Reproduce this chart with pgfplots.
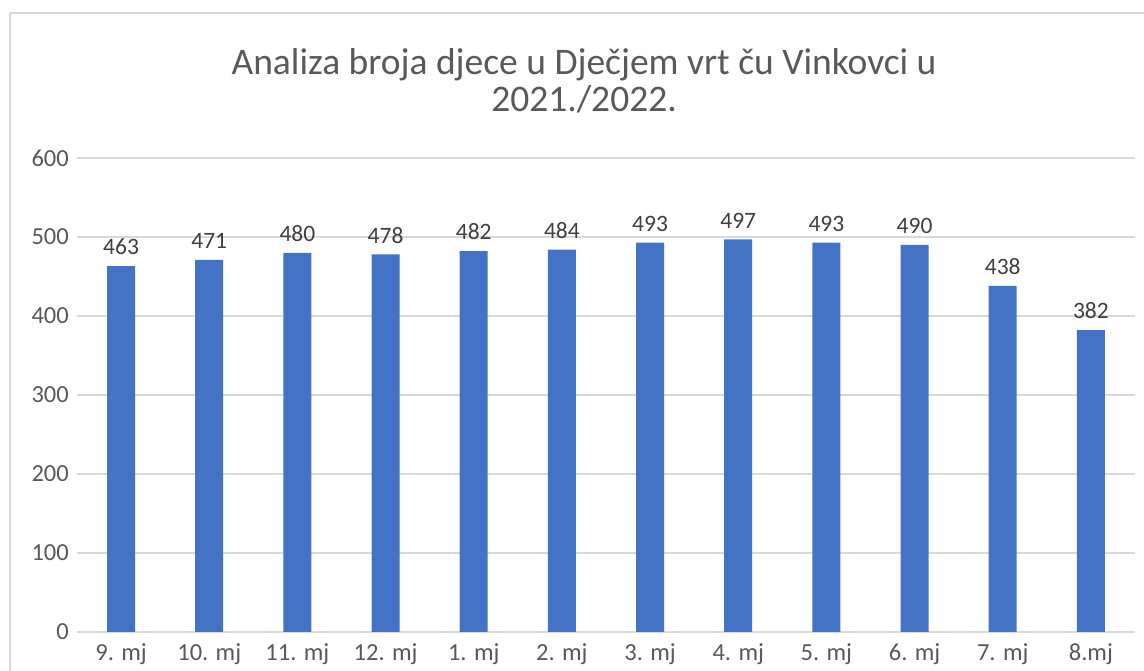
\documentclass[border=0pt]{standalone}
\usepackage{pgfplots}
\pgfplotsset{compat=1.18}
\usepackage{fontspec}
\setmainfont{Carlito}
\definecolor{barc}{HTML}{4472C4}
\definecolor{gridc}{HTML}{D9D9D9}
\definecolor{txt}{HTML}{595959}
\definecolor{lbl}{HTML}{404040}
\begin{document}
\begin{tikzpicture}[x=1pt,y=1pt]
\path[use as bounding box, fill=white] (0,0) rectangle (1144,671);
\draw[gridc, line width=1.3pt] (10,0) -- (10,658) -- (1144,658);
\node[anchor=base, text=txt, font=\fontsize{37.5}{44}\selectfont, inner sep=0pt] at (584,596) {Analiza broja djece u Dječjem vrt ču Vinkovci u};
\node[anchor=base, text=txt, font=\fontsize{37.5}{44}\selectfont, inner sep=0pt] at (584,559) {2021./2022.};
\begin{axis}[
  at={(77pt,39pt)}, anchor=south west,
  scale only axis, width=1058pt, height=474pt,
  ymin=0, ymax=600, ytick={0,100,...,600},
  xmin=-0.5, xmax=11.5, xtick={0,...,11},
  xticklabels={9. mj,10. mj,11. mj,12. mj,1. mj,2. mj,3. mj,4. mj,5. mj,6. mj,7. mj,8.mj},
  /pgf/number format/assume math mode=true,
  ybar, bar width=28pt,
  axis x line*=bottom, axis y line*=left,
  y axis line style={draw=none},
  x axis line style={gridc, line width=1.3pt, -},
  major tick length=0pt,
  ymajorgrids, grid style={gridc, line width=1.3pt},
  tick label style={font=\fontsize{24.5}{29}\selectfont, text=txt},
  yticklabel style={anchor=east, inner sep=0pt, xshift=-8pt},
  xticklabel style={anchor=north, inner sep=0pt, yshift=-11pt},
  nodes near coords,
  every node near coord/.append style={font=\fontsize{23.5}{28}\selectfont, text=lbl, anchor=south, inner sep=0pt, yshift=11pt},
  clip=false,
]
\addplot[fill=barc, draw=none] coordinates {(0,463) (1,471) (2,480) (3,478) (4,482) (5,484) (6,493) (7,497) (8,493) (9,490) (10,438) (11,382)};
\end{axis}
\end{tikzpicture}
\end{document}
